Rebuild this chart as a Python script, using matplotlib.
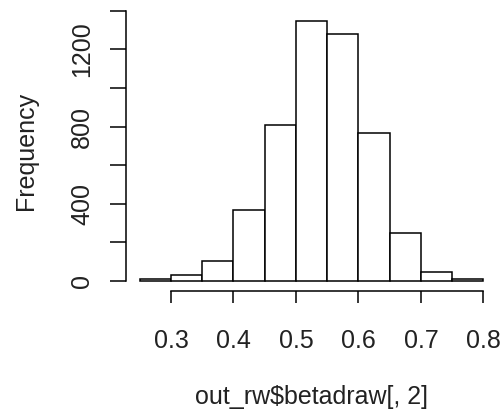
import matplotlib
matplotlib.use("Agg")
import matplotlib.pyplot as plt
import numpy as np

# Histogram of the posterior draws of beta[2]
bin_edges = [0.25, 0.30, 0.35, 0.40, 0.45, 0.50, 0.55, 0.60, 0.65, 0.70, 0.75, 0.80]
counts = [8, 31, 104, 366, 810, 1347, 1278, 765, 247, 48, 8]

x_ticks = [0.3, 0.4, 0.5, 0.6, 0.7, 0.8]
x_ticklabels = ["0.3", "0.4", "0.5", "0.6", "0.7", "0.8"]
y_ticks = [0, 200, 400, 600, 800, 1000, 1200, 1400]
y_ticklabels = ["0", "", "400", "", "800", "", "1200", ""]

x_label = "out_rw$betadraw[, 2]"
y_label = "Frequency"

plt.rcParams["font.family"] = ["Liberation Sans", "DejaVu Sans"]
FS = 18
TXT = "#222222"

W, H = 502, 417
fig = plt.figure(figsize=(W / 100, H / 100), dpi=100)
fig.patch.set_facecolor("white")

ax = fig.add_axes([126 / W, (H - 291.4) / H, 371.25 / W, 280.87 / H])

edges = np.array(bin_edges)
ax.bar(edges[:-1], counts, width=np.diff(edges), align="edge",
       facecolor="white", edgecolor="black", linewidth=1.1)

# R-style axis ranges: data range padded by 4% on each side
xr = edges[-1] - edges[0]
ax.set_xlim(edges[0] - 0.04 * xr, edges[-1] + 0.04 * xr)
ymax = max(counts)
ax.set_ylim(-0.04 * ymax, ymax * 1.04)

for s in ("top", "right"):
    ax.spines[s].set_visible(False)
ax.spines["left"].set_bounds(y_ticks[0], y_ticks[-1])
ax.spines["bottom"].set_bounds(x_ticks[0], x_ticks[-1])
for s in ("left", "bottom"):
    ax.spines[s].set_linewidth(1.1)

ax.set_xticks(x_ticks)
ax.set_xticklabels(x_ticklabels)
ax.set_yticks(y_ticks)
ax.set_yticklabels(y_ticklabels, rotation=90, va="center")

ax.tick_params(axis="x", length=8.8, width=1.1, pad=18.5, labelsize=FS, labelcolor=TXT)
ax.tick_params(axis="y", length=11.3, width=1.1, pad=11.5, labelsize=FS, labelcolor=TXT)

ax.set_xlabel(x_label, fontsize=FS, labelpad=23, color=TXT)
ax.set_ylabel(y_label, fontsize=FS, labelpad=23, color=TXT)

fig.savefig("out.png", dpi=100, facecolor="white")
